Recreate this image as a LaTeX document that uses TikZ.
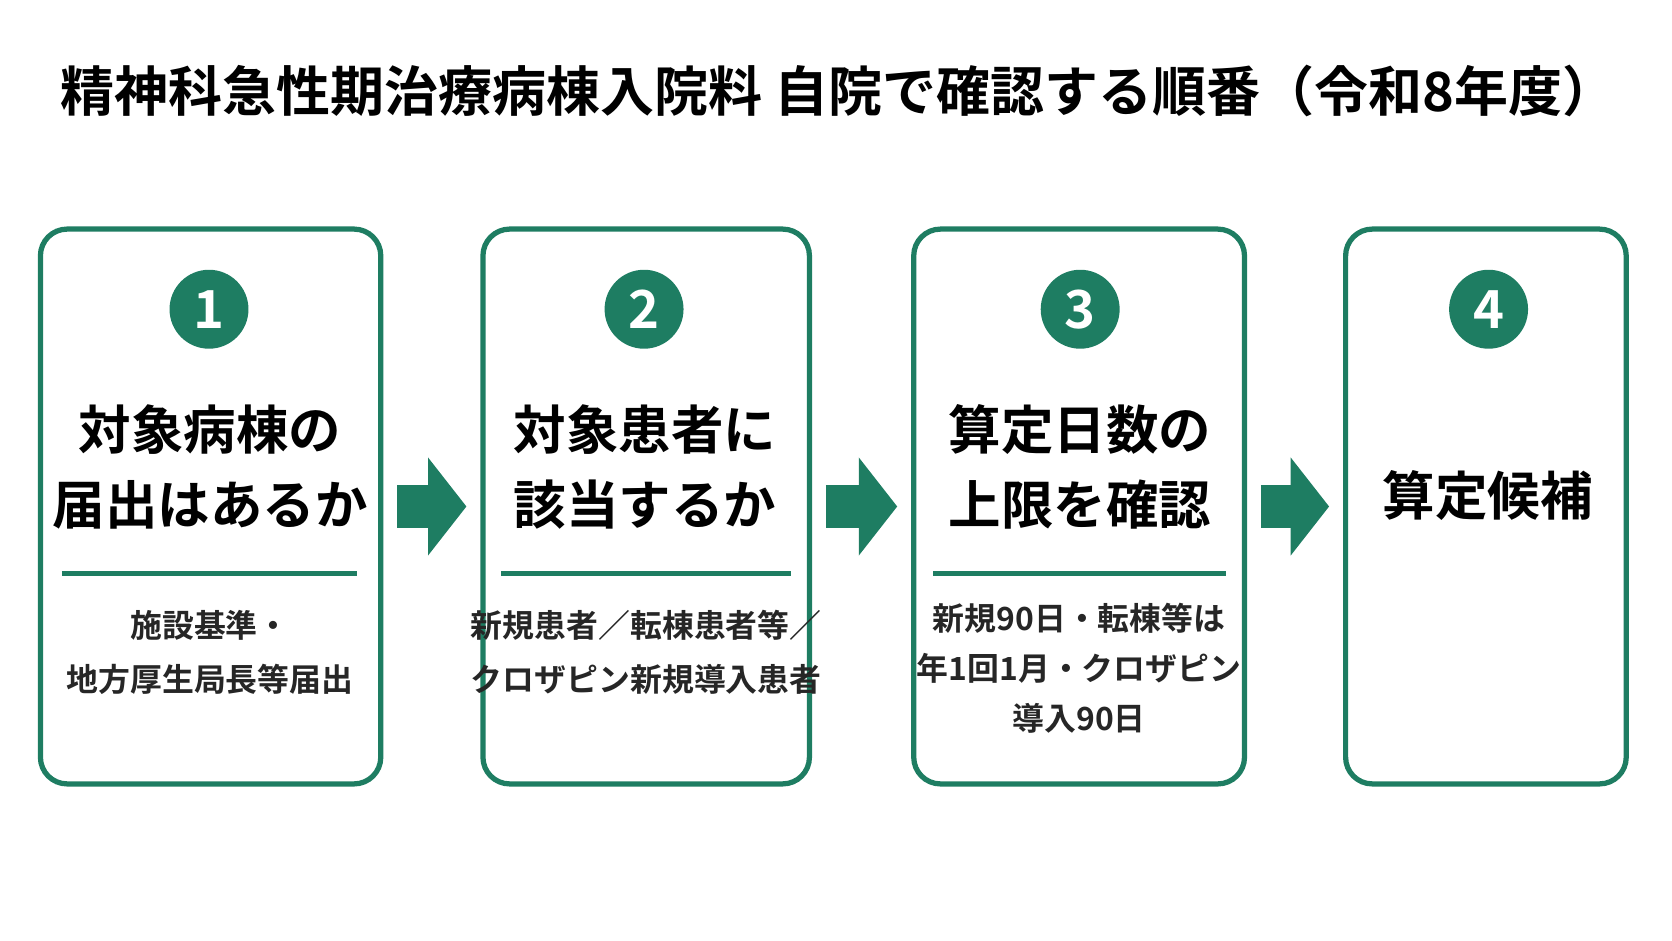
\documentclass[tikz,border=0pt]{standalone}
\usepackage{fontspec}
\setmainfont{Noto Sans CJK JP}
\newfontfamily\jpbold{Noto Sans CJK JP Bold}
\usetikzlibrary{arrows.meta,positioning}
\definecolor{stepgreen}{HTML}{1E7D62}
\newcommand{\stepnum}[1]{\textcolor{white}{#1}}

\begin{document}
\begin{tikzpicture}
[x=0.01cm,y=-0.01cm,
    card/.style={draw=stepgreen,line width=1.4pt,rounded corners=0.25cm,minimum width=#1,minimum height=5.2cm,inner sep=0pt},
    badge/.style={circle,fill=stepgreen,minimum size=0.74cm,inner sep=0pt,font=\jpbold\fontsize{14}{14}\selectfont},
    heading/.style={align=center,font=\jpbold\fontsize{14}{20}\selectfont},
    detail/.style={align=center,font=\jpbold\fontsize{8.5}{14.5}\selectfont,text=black!85},
    rule/.style={stepgreen,line width=1.3pt},
    flow/.style={stepgreen,line width=0.4cm,-{Triangle[length=0.36cm,width=0.9cm]},shorten <=0.13cm,shorten >=0.13cm}]
\useasboundingbox (0,0) rectangle (1568,882);
%%
\node[font=\jpbold\fontsize{14.4}{17}\selectfont] (title) at (786,85) {精神科急性期治療病棟入院料\ 自院で確認する順番（令和8年度）};
%% cards
\node[card=3.19cm] (c1) at (197.5,475) {};
\node[card=3.06cm] (c2) at (606,475) {};
\node[card=3.10cm] (c3) at (1012,475) {};
\node[card=2.63cm] (c4) at (1393.5,475) {};
%% numbers
\node[badge] (n1) at (196,290) {\stepnum{1}};
\node[badge] (n2) at (604,290) {\stepnum{2}};
\node[badge] (n3) at (1013,290) {\stepnum{3}};
\node[badge] (n4) at (1396,290) {\stepnum{4}};
%% headings
\node[heading] (h1) at (197,438) {対象病棟の\\届出はあるか};
\node[heading] (h2) at (605,438) {対象患者に\\該当するか};
\node[heading] (h3) at (1013,438) {算定日数の\\上限を確認};
\node[heading] (h4) at (1395,465) {算定候補};
%% rules
\draw[rule] (58,538) -- (335,538);
\draw[rule] (470,538) -- (742,538);
\draw[rule] (875,538) -- (1150,538);
%% details
\node[detail] (d1) at (197,612) {施設基準・\\地方厚生局長等届出};
\node[detail] (d2) at (606,612) {新規患者／転棟患者等／\\クロザピン新規導入患者};
\node[detail,font=\jpbold\fontsize{8.5}{13.3}\selectfont] (d3) at (1012,627) {新規90日・転棟等は\\年1回1月・クロザピン\\導入90日};
%% flow
\draw[flow] (c1.east) -- (c2.west);
\draw[flow] (c2.east) -- (c3.west);
\draw[flow] (c3.east) -- (c4.west);
\end{tikzpicture}
\end{document}
